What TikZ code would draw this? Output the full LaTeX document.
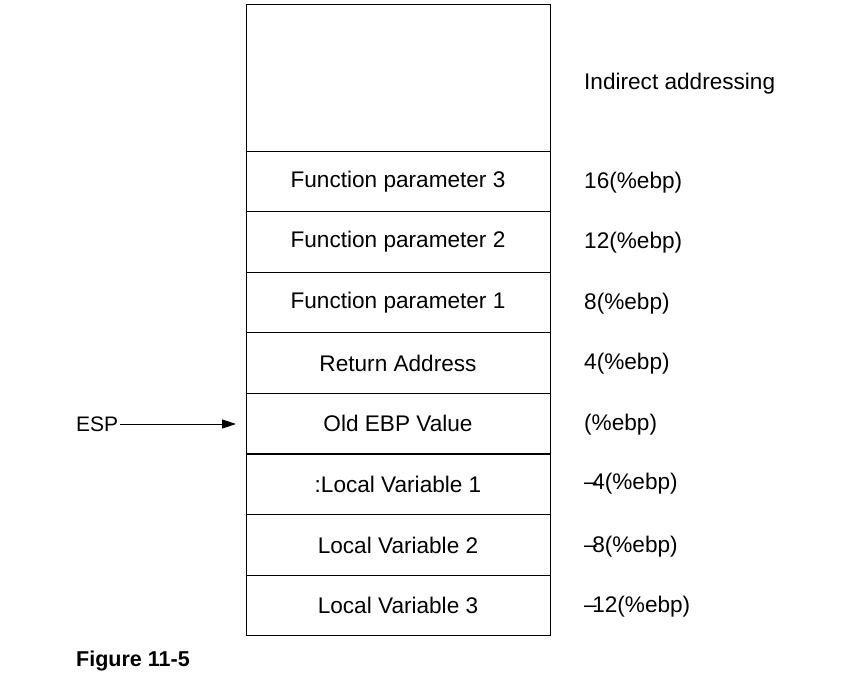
\documentclass[tikz,border=0pt]{standalone}
\usepackage{fontspec}
\setmainfont{Liberation Sans}
\usetikzlibrary{arrows.meta}
\begin{document}
\begin{tikzpicture}[x=1pt,y=-1pt,
  cell/.style={draw, line width=1pt, minimum width=304pt, minimum height=60.5pt, inner sep=0pt, font=\fontsize{22.6}{27}\selectfont},
  addr/.style={anchor=west, inner sep=0pt, font=\fontsize{22.6}{27}\selectfont},
  lbl/.style={inner sep=0pt, font=\fontsize{21}{25}\selectfont}]
\useasboundingbox (0,0) rectangle (856,698);
\node[cell, minimum height=146pt] (top) at (398,78) {};
\node[cell] (p3) at (398,181.5) {Function parameter 3};
\node[cell] (p2) at (398,242) {Function parameter 2};
\node[cell] (p1) at (398,302.5) {Function parameter 1};
\node[cell] (ra) at (398,363) {Return Address};
\node[cell] (ebp) at (398,423.5) {Old EBP Value};
\node[cell] (l1) at (398,484.5) {:Local Variable 1};
\node[cell] (l2) at (398,545) {Local Variable 2};
\node[cell] (l3) at (398,605.25) {Local Variable 3};
\node[addr] (ia) at (584,84) {Indirect addressing};
\node[addr] (a3) at (584,183) {16(\%ebp)};
\node[addr] (a2) at (584,243) {12(\%ebp)};
\node[addr] (a1) at (584,303.5) {8(\%ebp)};
\node[addr] (a0) at (584,363.5) {4(\%ebp)};
\node[addr] (am) at (584,425) {(\%ebp)};
\node[addr] (b1) at (584,484) {–\kern-0.2em4(\%ebp)};
\node[addr] (b2) at (584,547) {–\kern-0.2em8(\%ebp)};
\node[addr] (b3) at (584,607) {–\kern-0.2em12(\%ebp)};
\node[lbl, anchor=west] (esp) at (76,424) {ESP};
\coordinate (espend) at (236,424);
\draw[line width=0.9pt, -{Triangle[length=14pt,width=9pt]}] (esp.east) ++(2,0) -- (espend);
\node[lbl, anchor=west, font=\fontsize{21.5}{25}\selectfont\bfseries] (fig) at (76,661) {Figure 11-5};
\end{tikzpicture}
\end{document}
